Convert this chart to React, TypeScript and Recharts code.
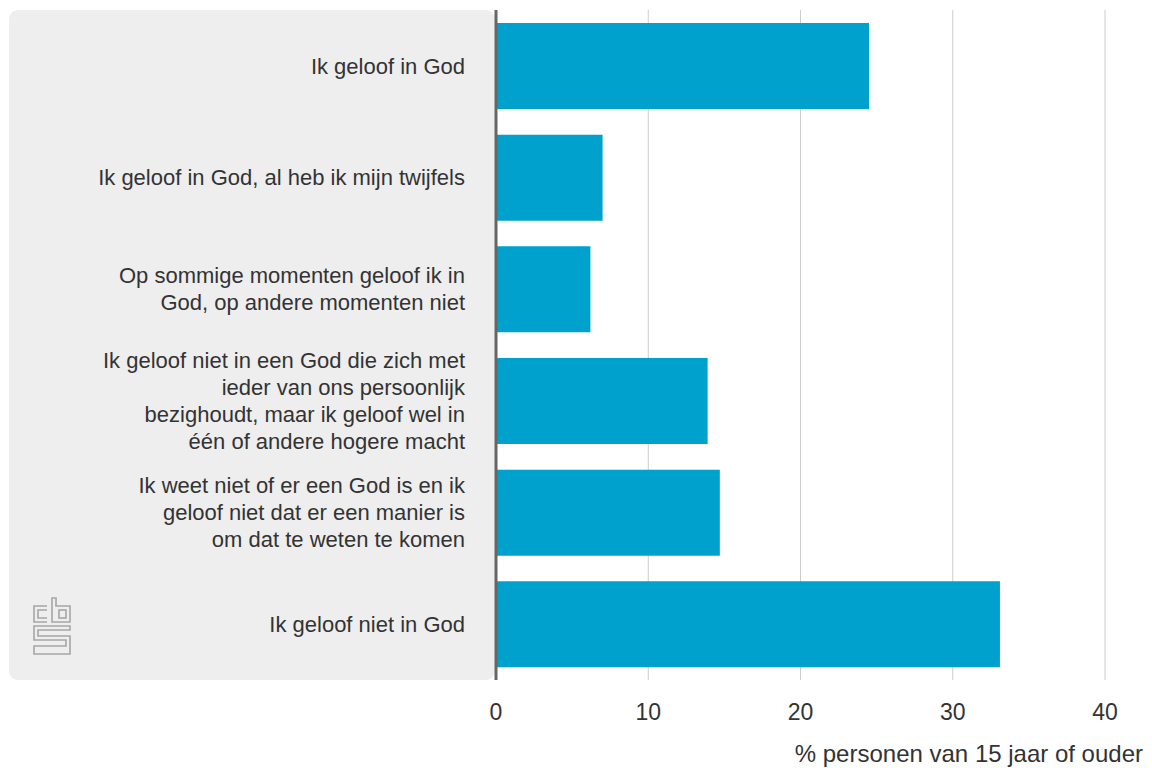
import { BarChart, Bar, XAxis, YAxis, CartesianGrid, ReferenceLine } from "recharts";

const categories = [
  "Ik geloof in God",
  "Ik geloof in God, al heb ik mijn twijfels",
  "Op sommige momenten geloof ik in\nGod, op andere momenten niet",
  "Ik geloof niet in een God die zich met\nieder van ons persoonlijk\nbezighoudt, maar ik geloof wel in\néén of andere hogere macht",
  "Ik weet niet of er een God is en ik\ngeloof niet dat er een manier is\nom dat te weten te komen",
  "Ik geloof niet in God",
];
const values = [24.5, 7.0, 6.2, 13.9, 14.7, 33.1];
const xTicks = [0, 10, 20, 30, 40];
const axisTitle = "% personen van 15 jaar of ouder";

const data = categories.map((c, i) => ({ name: c, value: values[i] }));

const FONT = "'Liberation Sans', Arial, sans-serif";

const CategoryTick = (props: any) => {
  const { y, payload } = props;
  const lines: string[] = String(payload.value).split("\n");
  const lh = 26.8;
  const start = -((lines.length - 1) * lh) / 2;
  return (
    <text x={465} y={y} textAnchor="end" fill="#333" fontSize={22} fontFamily={FONT}>
      {lines.map((l, i) => (
        <tspan key={i} x={465} y={y + start + i * lh} dy="0.35em">
          {l}
        </tspan>
      ))}
    </text>
  );
};

const CbsLogo = () => (
  <svg width={40} height={60} viewBox="0 0 40 60" style={{ position: "absolute", left: 32, top: 596 }}>
    <g fill="none" stroke="#a6a6a6" strokeWidth={1.6}>
      <path d="M15 10 H2 V26 H15" />
      <path d="M15 14 H6 V22 H15" />
      <path d="M20 2 V26 H38 V10 H24 V2 Z" />
      <rect x={27} y={14} width={7} height={8} />
      <path d="M38 30 H2 V44 H34 V50 H2 V58 H38 V40 H6 V34 H38 Z" />
    </g>
  </svg>
);

export default function App() {
  return (
    <div style={{ position: "absolute", left: 0, top: 0, width: 1152, height: 768, background: "#fff" }}>
      <div
        style={{
          position: "absolute",
          left: 9,
          top: 10,
          width: 486,
          height: 670,
          background: "#eeeeee",
          borderRadius: 9,
        }}
      />
      <CbsLogo />
      <BarChart
        width={1152}
        height={768}
        data={data}
        layout="vertical"
        margin={{ top: 10, right: 47, bottom: 0, left: 0 }}
        barCategoryGap={13}
        style={{ position: "absolute", left: 0, top: 0 }}
      >
        <CartesianGrid horizontal={false} stroke="#cccccc" strokeWidth={1} />
        <XAxis
          type="number"
          domain={[0, 40]}
          ticks={xTicks}
          axisLine={false}
          tickLine={false}
          tickSize={0}
          tickMargin={24}
          tick={{ fill: "#333", fontSize: 23, fontFamily: FONT }}
          label={{
            value: axisTitle,
            position: "insideBottomRight",
            offset: 0,
            dx: 38,
            dy: -6,
            fill: "#333",
            fontSize: 24,
            fontFamily: FONT,
          }}
          height={88}
        />
        <YAxis
          type="category"
          dataKey="name"
          width={496}
          axisLine={false}
          tickLine={false}
          tick={<CategoryTick />}
          interval={0}
        />
        <Bar dataKey="value" fill="#00a1cd" isAnimationActive={false} />
        <ReferenceLine x={0} stroke="#666666" strokeWidth={3} />
      </BarChart>
    </div>
  );
}
